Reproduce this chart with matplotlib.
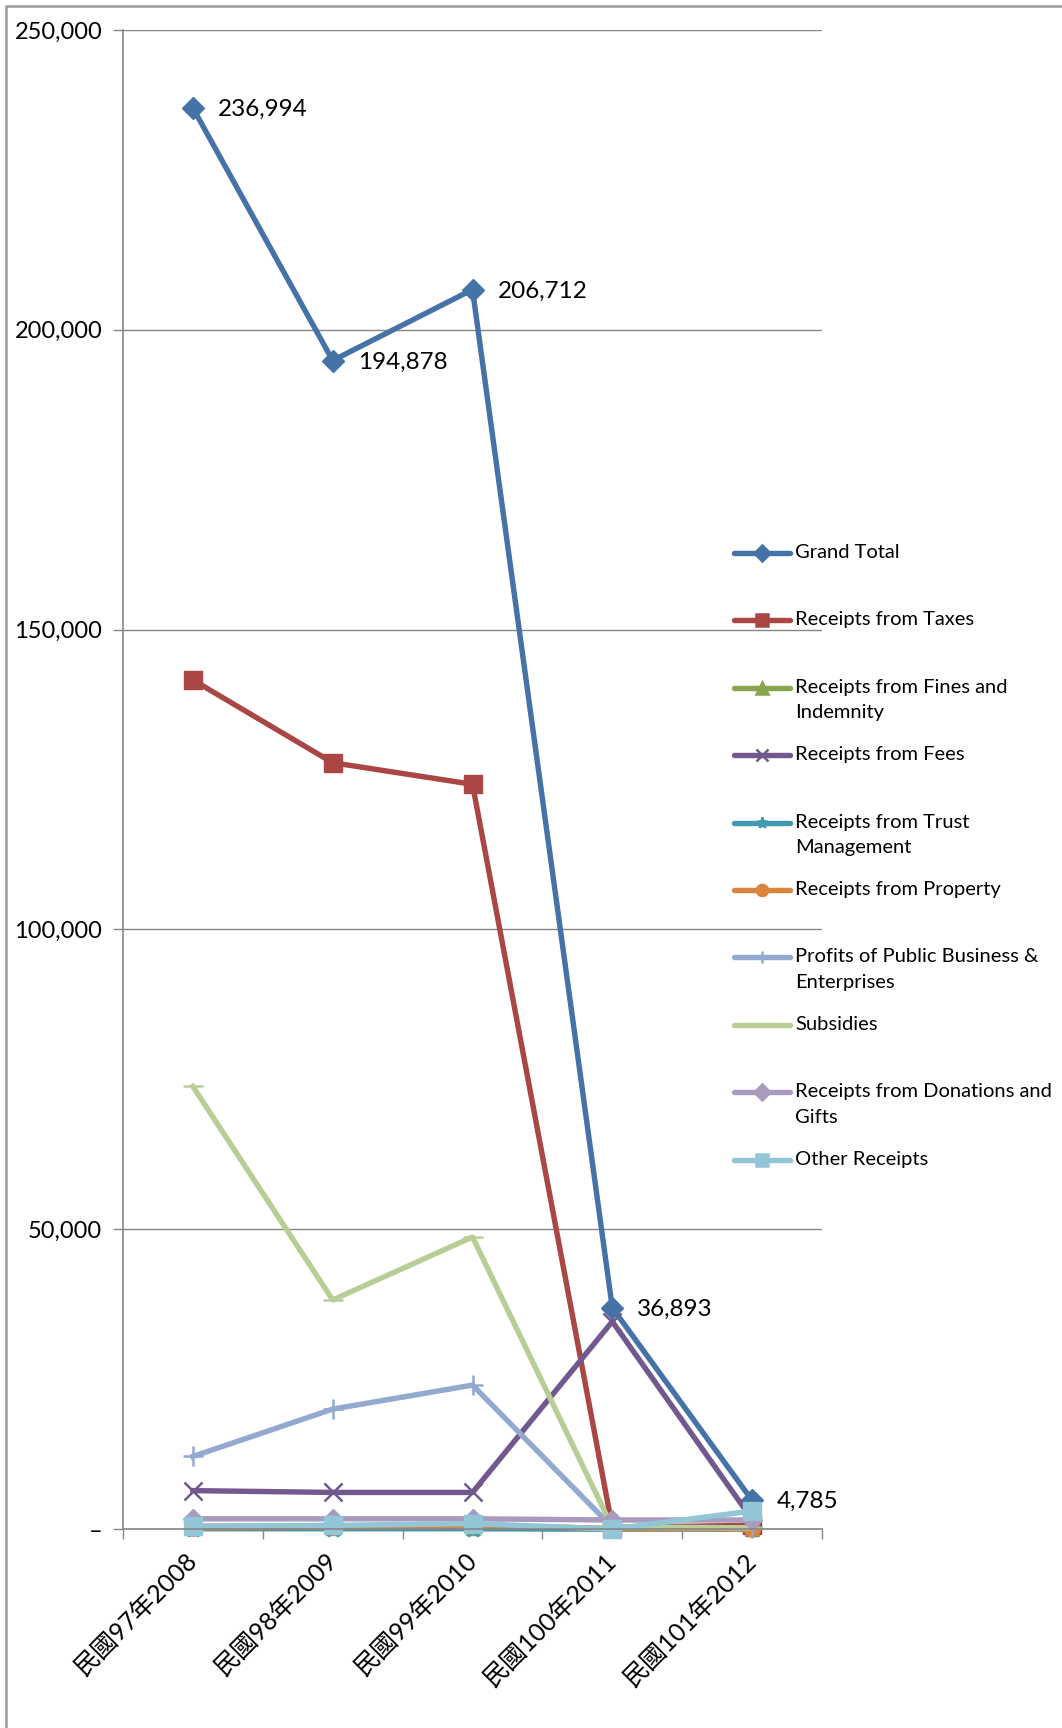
'''
line chart of government receipts by year (民國97-101年)
'''
import matplotlib
matplotlib.use("Agg")
import matplotlib.pyplot as plt
from matplotlib.lines import Line2D
from matplotlib.patches import Rectangle

years = ["民國97年2008", "民國98年2009", "民國99年2010", "民國100年2011", "民國101年2012"]

grand_total = [236994, 194878, 206712, 36893, 4785]
taxes = [141600, 127800, 124200, 300, 600]
fines = [100, 100, 100, 0, 0]
fees = [6400, 6100, 6100, 34600, 1600]
trust = [50, 50, 50, 0, 0]
property_ = [200, 300, 600, 100, 0]
profits = [12100, 20000, 24000, 300, 200]
subsidies = [73800, 38200, 48700, 300, 200]
donations = [1700, 1700, 1700, 1500, 1500]
other = [500, 600, 900, 0, 3000]

series_names = [
    "Grand Total", "Receipts from Taxes", "Receipts from Fines and\nIndemnity",
    "Receipts from Fees", "Receipts from Trust\nManagement", "Receipts from Property",
    "Profits of Public Business &\nEnterprises", "Subsidies",
    "Receipts from Donations and\nGifts", "Other Receipts",
]
series_values = [grand_total, taxes, fines, fees, trust, property_,
                 profits, subsidies, donations, other]
colors = ["#4572A7", "#AA4643", "#89A54E", "#71588F", "#4198AF", "#DB843D",
          "#93A9CF", "#B9CD96", "#A99BBD", "#92C5D6"]
markers = ["D", "s", "^", "x", "*", "o", "+", "_", "D", "s"]
msizes = [11, 13, 10, 13, 12, 11, 15, 15, 10, 13]

yticks = [0, 50000, 100000, 150000, 200000, 250000]
ytick_labels = ["–", "50,000", "100,000", "150,000", "200,000", "250,000"]

plt.rcParams['font.family'] = ['Lato', 'Noto Sans CJK TC', 'DejaVu Sans']

W, H = 1062, 1728
fig = plt.figure(figsize=(W / 100, H / 100), dpi=100, facecolor='white')
ax = fig.add_axes([123 / W, 1 - 1529 / H, (822 - 123) / W, (1529 - 30) / H])

xs = list(range(len(years)))
for vals, col, mk, ms in zip(series_values, colors, markers, msizes):
    ax.plot(xs, vals, color=col, linewidth=3.9, marker=mk, markersize=ms,
            markeredgewidth=1.8 if mk in ("x", "+", "*", "_") else 1,
            markerfacecolor=col, markeredgecolor=col, clip_on=False,
            solid_joinstyle='round')

# data labels on the grand total
for x, v in zip(xs, grand_total):
    ax.annotate(f"{v:,}", (x, v), xytext=(18, -1), textcoords='offset points',
                ha='left', va='center', fontsize=17.5, color='black')

ax.set_xlim(-0.5, len(years) - 0.5)
ax.set_ylim(0, 250000)
ax.set_yticks(yticks)
ax.set_yticklabels(ytick_labels, fontsize=17)
ax.set_xticks(xs)
ax.set_xticklabels(years, rotation=45, ha='right', va='center',
                   rotation_mode='anchor', fontsize=18)
ax.set_xticks([x - 0.5 for x in xs] + [len(years) - 0.5], minor=True)
ax.tick_params(axis='x', which='major', length=0, pad=20)
ax.tick_params(axis='x', which='minor', length=7, width=1, color='#868686', direction='out')
ax.tick_params(axis='y', length=7, width=1, color='#868686', pad=8)

ax.grid(axis='y', color='#868686', linewidth=1)
ax.set_axisbelow(True)
for side in ('top', 'right'):
    ax.spines[side].set_visible(False)
for side in ('left', 'bottom'):
    ax.spines[side].set_color('#868686')
    ax.spines[side].set_linewidth(1.2)

# legend, drawn by hand so entries keep the even spacing of the original
y0, step = 553, 67.4
for i, (name, col, mk) in enumerate(zip(series_names, colors, markers)):
    yy = 1 - (y0 + i * step) / H
    fig.add_artist(Line2D([734 / W, 790 / W], [yy, yy], color=col, linewidth=3.9,
                          solid_capstyle='round'))
    if mk != "_":
        fig.add_artist(Line2D([762 / W], [yy], color=col, marker=mk, markersize=8,
                              markeredgewidth=1.8, markerfacecolor=col,
                              markeredgecolor=col))
    fig.text(795 / W, yy + 9 / H, name, ha='left', va='top', fontsize=14.5,
             linespacing=1.6, color='black')

# outer chart border
fig.add_artist(Rectangle((6 / W, -0.1), 1.2, 1 - 6 / H + 0.1, transform=fig.transFigure,
                         fill=False, edgecolor='#999999', linewidth=1.8))

fig.savefig("out.png", dpi=100, facecolor='white')
